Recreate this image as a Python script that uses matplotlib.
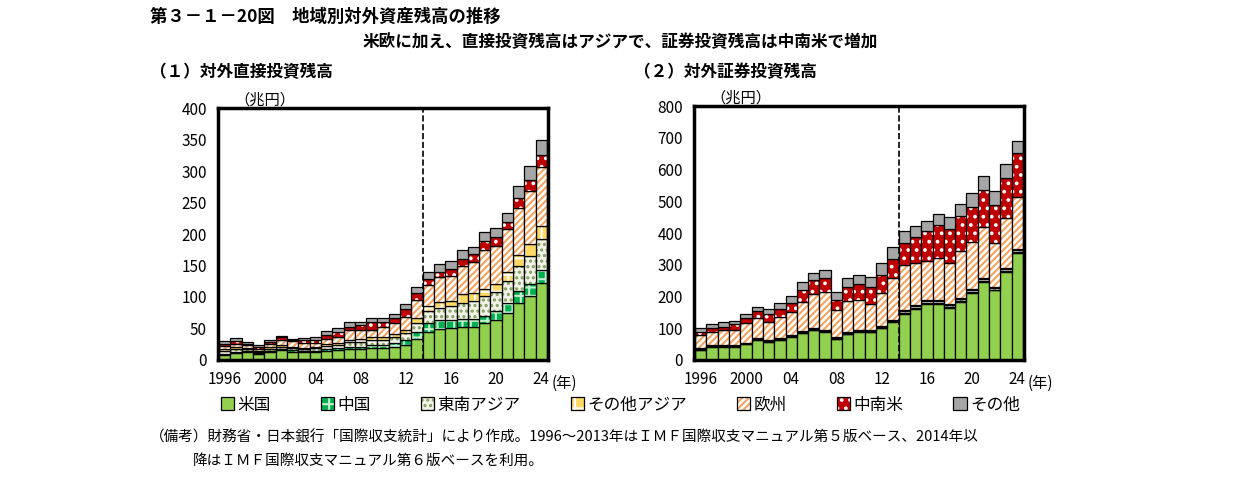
import matplotlib
matplotlib.use("Agg")
import matplotlib.pyplot as plt
import numpy as np

plt.rcParams['font.family'] = ['Noto Sans CJK JP', 'DejaVu Sans']
plt.rcParams['hatch.linewidth'] = 1.5

years = list(range(1996, 2025))
tick_labels = ["1996", "2000", "04", "08", "12", "16", "20", "24"]
regions = ["米国", "中国", "東南アジア", "その他アジア", "欧州", "中南米", "その他"]

# (1) direct investment, trillion yen
fdi_us = [8, 11, 12, 10, 13, 16, 13, 12, 12, 15, 16, 17, 17, 19, 19, 21, 23, 34, 45, 49, 51, 53, 53, 58, 63, 75, 91, 101, 123]
fdi_cn = [2, 2, 2, 1, 2, 2, 3, 2, 2, 2, 3, 4, 4, 5, 5, 6, 8, 10, 13, 14, 13, 12, 12, 12, 14, 16, 18, 20, 20]
fdi_sea = [5, 4, 3, 2, 3, 3, 3, 3, 5, 5, 5, 7, 7, 7, 8, 9, 12, 15, 19, 20, 21, 26, 29, 31, 31, 34, 40, 44, 49]
fdi_oa = [2, 3, 2, 1, 2, 2, 2, 2, 2, 3, 3, 4, 5, 5, 5, 5, 5, 8, 8, 9, 8, 13, 12, 12, 12, 15, 17, 19, 21]
fdi_eu = [5, 6, 4, 3, 5, 9, 9, 8, 6, 8, 10, 15, 15, 12, 16, 18, 21, 29, 34, 39, 40, 45, 49, 62, 61, 68, 75, 85, 93]
fdi_la = [4, 4, 3, 3, 3, 4, 2, 5, 4, 7, 7, 6, 8, 12, 8, 7, 12, 11, 10, 9, 11, 12, 13, 14, 14, 11, 16, 16, 19]
fdi_ot = [4, 5, 3, 3, 3, 2, 2, 3, 6, 6, 7, 7, 5, 7, 6, 7, 8, 9, 11, 12, 13, 14, 12, 14, 14, 14, 20, 23, 24]

# (2) portfolio investment, trillion yen
pi_us = [32, 42, 42, 42, 50, 63, 57, 63, 73, 85, 95, 89, 66, 82, 89, 88, 101, 121, 145, 161, 177, 177, 164, 184, 212, 247, 219, 278, 338]
pi_cn = [1] * 18 + [2] * 11
pi_sea = [3] * 18 + [6] * 11
pi_oa = [1] * 18 + [4] * 11
pi_eu = [42, 42, 48, 48, 62, 65, 59, 68, 74, 93, 109, 119, 85, 99, 96, 84, 106, 133, 141, 131, 122, 133, 130, 146, 149, 161, 139, 156, 163]
pi_la = [10, 12, 10, 19, 16, 20, 24, 25, 29, 36, 42, 46, 34, 43, 50, 54, 55, 60, 72, 85, 94, 103, 108, 111, 108, 117, 118, 127, 138]
pi_ot = [13, 13, 15, 9, 12, 14, 16, 19, 22, 28, 24, 23, 23, 30, 27, 31, 37, 36, 36, 32, 32, 36, 35, 40, 44, 42, 43, 43, 39]

styles = [
    dict(color="#92D050", hatch=None),
    dict(color="#00B050", hatch="++", hc="#C6EFCE"),
    dict(color="#F2F2E6", hatch="...", hc="#7F9F5F"),
    dict(color="#FFD966", hatch="+", hc="white"),
    dict(color="white", hatch="/////", hc="#F4A460"),
    dict(color="#C00000", hatch="..", hc="white"),
    dict(color="#A6A6A6", hatch=None),
]


def draw(ax, series, ymax, step):
    x = np.arange(len(years))
    bottom = np.zeros(len(years))
    handles = []
    for vals, st, name in zip(series, styles, regions):
        vals = np.array(vals, dtype=float)
        bars = ax.bar(x, vals, width=1.0, bottom=bottom, color=st["color"],
                      edgecolor="black", linewidth=0.9, label=name)
        if st["hatch"]:
            for b in bars:
                b.set_hatch(st["hatch"])
                b._hatch_color = matplotlib.colors.to_rgba(st["hc"])
        handles.append(bars)
        bottom += vals
    ax.set_xlim(-0.6, len(years) - 0.4)
    ax.set_ylim(0, ymax)
    ax.set_yticks(np.arange(0, ymax + 1, step))
    ax.set_xticks(np.arange(0, len(years), 4))
    ax.set_xticklabels(tick_labels)
    ax.tick_params(length=0, labelsize=11, pad=8)
    for s in ax.spines.values():
        s.set_linewidth(2.5)
    ax.axvline(17.5, color="black", linestyle="--", linewidth=1.2)
    ax.text(1.01, -0.06, "(年)", transform=ax.transAxes, fontsize=11, va="top")
    ax.text(0.05, 1.0, "（兆円）", transform=ax.transAxes, fontsize=11, va="bottom")
    return handles


fig = plt.figure(figsize=(12.41, 4.94), dpi=100)
ax1 = fig.add_axes([0.1757, 0.2713, 0.266, 0.51])
ax2 = fig.add_axes([0.5592, 0.2713, 0.266, 0.514])

h = draw(ax1, [fdi_us, fdi_cn, fdi_sea, fdi_oa, fdi_eu, fdi_la, fdi_ot], 400, 50)
draw(ax2, [pi_us, pi_cn, pi_sea, pi_oa, pi_eu, pi_la, pi_ot], 800, 100)

fig.text(0.121, 0.965, "第３－１－20図　地域別対外資産残高の推移", fontsize=12.5, fontweight="bold", va="center")
fig.text(0.50, 0.915, "米欧に加え、直接投資残高はアジアで、証券投資残高は中南米で増加", fontsize=12, fontweight="bold", va="center", ha="center")
fig.text(0.121, 0.855, "（１）対外直接投資残高", fontsize=12, fontweight="bold", va="center")
fig.text(0.511, 0.855, "（２）対外証券投資残高", fontsize=12, fontweight="bold", va="center")

fig.legend(handles=h, labels=regions, loc="center", bbox_to_anchor=(0.50, 0.18), ncol=7,
           frameon=False, fontsize=12, handlelength=0.8, handleheight=0.8,
           handletextpad=0.2, columnspacing=3.0)

fig.text(0.121, 0.115, "（備考）財務省・日本銀行「国際収支統計」により作成。1996～2013年はＩＭＦ国際収支マニュアル第５版ベース、2014年以",
         fontsize=10.5, va="center")
fig.text(0.155, 0.068, "降はＩＭＦ国際収支マニュアル第６版ベースを利用。", fontsize=10.5, va="center")

fig.savefig("out.png", dpi=100)
